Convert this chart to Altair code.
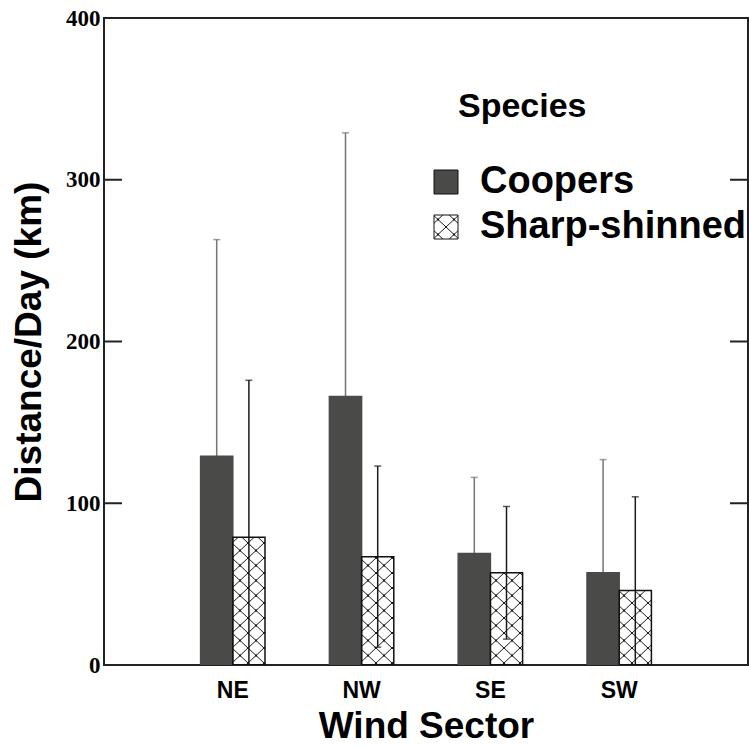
import altair as alt
import pandas as pd
import jinja2

# Mean daily travel distance (km) with one standard deviation, by wind sector
sectors = ["NE", "NW", "SE", "SW"]
species = ["Coopers", "Sharp-shinned"]
coopers_mean = [129, 166, 69, 57]
coopers_sd = [134, 163, 47, 70]
sharp_mean = [79, 67, 57, 46]
sharp_sd = [97, 56, 41, 58]
y_ticks = [0, 100, 200, 300, 400]

rows = []
for i, s in enumerate(sectors):
    rows.append({"sector": s, "species": species[0], "mean": coopers_mean[i], "sd": coopers_sd[i]})
    rows.append({"sector": s, "species": species[1], "mean": sharp_mean[i], "sd": sharp_sd[i]})
df = pd.DataFrame(rows)
df["lo"] = df["mean"] - df["sd"]
df["hi"] = df["mean"] + df["sd"]
ticks_df = pd.DataFrame({"v": y_ticks})

W, H = 644, 647
SANS = "Liberation Sans"
SERIF = "Liberation Serif"
DARK = "#4a4a48"

x_axis = alt.Axis(
    title="Wind Sector", labelAngle=0, ticks=False, domain=False,
    labelFont=SANS, labelFontWeight="bold", labelFontSize=23, labelColor="black",
    labelPadding=14, titleFont=SANS, titleFontWeight="bold", titleFontSize=37,
    titleColor="black", titleY=72, titleBaseline="alphabetic",
)
y_axis = alt.Axis(
    title="Distance/Day (km)", values=y_ticks, ticks=False, domain=False, grid=False,
    labelFont=SERIF, labelFontWeight="bold", labelFontSize=23, labelColor="black",
    labelPadding=4, titleFont=SANS, titleFontWeight="bold", titleFontSize=37,
    titleColor="black", titleAngle=270, titleX=-64, titleY=H / 2,
    titleBaseline="alphabetic", titleAlign="center",
)
y_scale = alt.Scale(domain=[0, 400], nice=False, zero=True)
x_enc = alt.X("sector:N", sort=sectors,
              scale=alt.Scale(paddingInner=0.5, paddingOuter=0.75), axis=x_axis)
xo_enc = alt.XOffset("species:N", sort=species,
                     scale=alt.Scale(domain=species, paddingInner=0, paddingOuter=0))


def y_enc(field):
    return alt.Y(field, scale=y_scale, axis=y_axis)


line_col = alt.condition(alt.datum.species == species[0], alt.value("#767676"), alt.value("#1a1a1a"))

base = alt.Chart(df)

# whiskers: mean - sd to mean + sd (the lower half shows through the hatching)
whiskers = base.mark_rule(strokeWidth=1.5, clip=True).encode(
    x=x_enc, xOffset=xo_enc, y=y_enc("lo:Q"), y2="hi:Q", stroke=line_col
)
caps_hi = base.mark_tick(size=7, thickness=1.5, clip=True).encode(
    x=x_enc, xOffset=xo_enc, y=y_enc("hi:Q"), color=line_col
)
caps_lo = base.mark_tick(size=7, thickness=1.5, clip=True).encode(
    x=x_enc, xOffset=xo_enc, y=y_enc("lo:Q"), color=line_col
)

bars = base.mark_bar(strokeWidth=1.5, clip=True).encode(
    x=x_enc,
    xOffset=xo_enc,
    y=y_enc("mean:Q"),
    color=alt.Color(
        "species:N", sort=species,
        scale=alt.Scale(domain=species, range=[DARK, "url(#xhatch)"]),
        legend=alt.Legend(
            title=None, orient="none", legendX=323, legendY=145,
            symbolType="square", symbolSize=576, symbolStrokeColor="#111",
            symbolStrokeWidth=1, symbolOpacity=1,
            labelFont=SANS, labelFontWeight="bold", labelFontSize=38,
            labelColor="black", labelOffset=15, rowPadding=7, labelLimit=600,
        ),
    ),
    stroke=alt.condition(alt.datum.species == species[0], alt.value(DARK), alt.value("#111")),
)

# inward ticks on both vertical edges of the frame
left_ticks = alt.Chart(ticks_df).mark_rule(color="#222", strokeWidth=2).encode(
    y=y_enc("v:Q"), x=alt.value(0), x2=alt.value(18)
)
right_ticks = alt.Chart(ticks_df).mark_rule(color="#222", strokeWidth=2).encode(
    y=y_enc("v:Q"), x=alt.value(W - 18), x2=alt.value(W)
)

legend_title = alt.Chart(pd.DataFrame({"t": ["Species"]})).mark_text(
    align="left", baseline="middle", font=SANS, fontWeight="bold", fontSize=34, color="black"
).encode(text="t:N", x=alt.value(354), y=alt.value(89))

chart = (
    alt.layer(whiskers, caps_hi, caps_lo, bars, left_ticks, right_ticks, legend_title)
    .properties(width=W, height=H, autosize=alt.AutoSizeParams(type="none"),
                padding={"left": 104, "top": 18, "right": 1, "bottom": 83},
                background="white")
    .configure_view(stroke="#222", strokeWidth=2)
)

# page template carrying the cross-hatch fill used by the second series
page = jinja2.Template("""<!DOCTYPE html>
<html>
<head>
<meta charset="utf-8">
<style>
  body { margin: 0; }
  #{{ output_div }}.vega-embed { width: 100%; display: flex; }
</style>
<script type="text/javascript" src="{{ base_url }}/vega@{{ vega_version }}"></script>
<script type="text/javascript" src="{{ base_url }}/vega-lite@{{ vegalite_version }}"></script>
<script type="text/javascript" src="{{ base_url }}/vega-embed@{{ vegaembed_version }}"></script>
</head>
<body>
<svg width="0" height="0" style="position:absolute" aria-hidden="true">
  <defs>
    <pattern id="xhatch" patternUnits="userSpaceOnUse" width="16" height="15">
      <rect x="0" y="0" width="16" height="15" fill="none"/>
      <path d="M0,0 L16,15 M16,0 L0,15" stroke="#1a1a1a" stroke-width="1" fill="none"/>
      <rect x="7" y="6.5" width="2" height="2" fill="#1a1a1a"/>
      <rect x="0" y="0" width="1" height="1" fill="#1a1a1a"/>
      <rect x="15" y="0" width="1" height="1" fill="#1a1a1a"/>
      <rect x="0" y="14" width="1" height="1" fill="#1a1a1a"/>
      <rect x="15" y="14" width="1" height="1" fill="#1a1a1a"/>
    </pattern>
  </defs>
</svg>
<div id="{{ output_div }}"></div>
<script type="text/javascript">
  vegaEmbed("#{{ output_div }}", {{ spec }}, {{ embed_options }}).catch(console.error);
</script>
</body>
</html>
""")

chart.save("out.html", embed_options={"renderer": "svg", "actions": False}, template=page)
